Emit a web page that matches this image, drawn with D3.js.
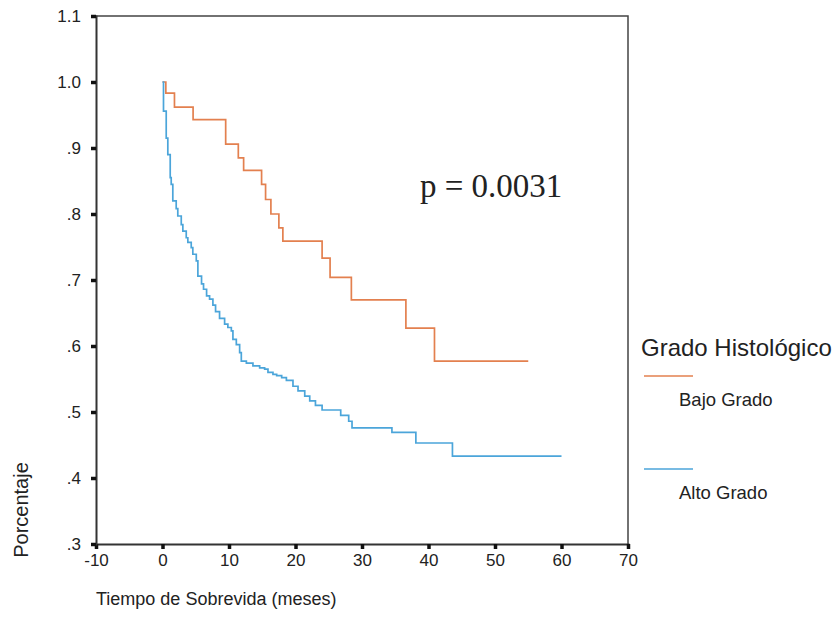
<!DOCTYPE html>
<html>
<head>
<meta charset="utf-8">
<script src="https://d3js.org/d3.v7.min.js"></script>
<style>
  body { margin: 0; background: #fff; }
  svg text { font-family: "Liberation Sans", Arial, sans-serif; fill: #222; }
</style>
<title>Sobrevida por grado histológico</title>
</head>
<body>
<div id="chart"><svg width="834" height="633"></svg></div>
<script>
// tick values
var timeTicks = [-10, 0, 10, 20, 30, 40, 50, 60, 70];
var pctTicks = [0.3, 0.4, 0.5, 0.6, 0.7, 0.8, 0.9, 1.0, 1.1];

// Bajo Grado (step changes: month, survival after the step)
var bajoTime = [0, 0.5, 1.8, 4.6, 9.5, 11.4, 12.2, 14.9, 15.5, 16.3, 17.5, 18.1, 24.0, 25.2, 28.4, 36.6, 40.9, 55];
var bajoSurv = [1.0, 0.983, 0.962, 0.943, 0.906, 0.885, 0.866, 0.845, 0.822, 0.800, 0.779, 0.759, 0.733, 0.704, 0.670, 0.627, 0.577, 0.577];

// Alto Grado
var altoTime = [0, 0.15, 0.56, 0.8, 1.16, 1.31, 1.55, 2.06, 2.3, 2.82, 3.06, 3.57, 3.81, 4.32, 4.56, 5.08, 5.32, 5.87, 6.17, 6.63,
  7.08, 7.58, 7.98, 8.58, 9.34, 9.83, 10.35, 10.59, 11.1, 11.6, 11.85, 12.61, 13.6, 14.61, 15.36, 15.86, 16.61, 17.17, 17.92,
  18.63, 19.62, 20.38, 21.39, 22.14, 23, 24, 26.8, 28, 28.5, 34.5, 38.1, 43.6, 60];
var altoSurv = [1.0, 0.956, 0.915, 0.890, 0.855, 0.845, 0.820, 0.808, 0.797, 0.784, 0.774, 0.764, 0.757, 0.749, 0.739, 0.729, 0.706,
  0.694, 0.686, 0.676, 0.671, 0.662, 0.652, 0.642, 0.633, 0.628, 0.623, 0.610, 0.602, 0.590, 0.577, 0.574, 0.570, 0.567, 0.565,
  0.560, 0.557, 0.555, 0.552, 0.548, 0.539, 0.532, 0.524, 0.517, 0.510, 0.503, 0.495, 0.486, 0.476, 0.469, 0.453, 0.433, 0.433];

var seriesNames = ['Bajo Grado', 'Alto Grado'];
var seriesColors = ['#e3804f', '#4ba5da'];

var svg = d3.select('#chart svg');
var margin = { top: 16, right: 206, bottom: 89, left: 96 };
var width = 834, height = 633;

var x = d3.scaleLinear().domain([-10, 70]).range([margin.left, width - margin.right]);
var y = d3.scaleLinear().domain([0.3, 1.1]).range([height - margin.bottom, margin.top]);

var fmtY = function(v) {
  var s = v.toFixed(1);
  return v < 1 ? s.replace(/^0/, '') : s;
};
var fmtX = function(v) { return String(v); };  // plain hyphen for -10

// frame (top and right)
svg.append('path')
  .attr('d', 'M' + x(-10) + ',' + y(1.1) + 'H' + x(70) + 'V' + y(0.3))
  .attr('fill', 'none')
  .attr('stroke', '#444')
  .attr('stroke-width', 1.5);

var xAxis = svg.append('g')
  .attr('transform', 'translate(0,' + y(0.3) + ')')
  .call(d3.axisBottom(x).tickValues(timeTicks).tickFormat(fmtX).tickSize(5).tickPadding(5));

var yAxis = svg.append('g')
  .attr('transform', 'translate(' + x(-10) + ',0)')
  .call(d3.axisLeft(y).tickValues(pctTicks).tickFormat(fmtY).tickSize(5).tickPadding(10));

[xAxis, yAxis].forEach(function(g) {
  g.select('.domain').attr('stroke', '#333').attr('stroke-width', 2);
  g.selectAll('.tick line').attr('stroke', '#111').attr('stroke-width', 3.5);
  g.selectAll('.tick text').style('font-size', '17px').attr('fill', '#222');
});

var line = d3.line()
  .x(function(d) { return x(d[0]); })
  .y(function(d) { return y(d[1]); })
  .curve(d3.curveStepAfter);

var bajo = d3.zip(bajoTime, bajoSurv);
var alto = d3.zip(altoTime, altoSurv);

svg.selectAll('path.km')
  .data([bajo, alto])
  .enter()
  .append('path')
  .attr('class', 'km')
  .attr('d', line)
  .attr('fill', 'none')
  .attr('stroke', function(d, i) { return seriesColors[i]; })
  .attr('stroke-width', 1.7);

// p value
svg.append('text')
  .attr('x', 420)
  .attr('y', 197)
  .style('font-family', '"Liberation Serif", "Times New Roman", serif')
  .style('font-size', '33px')
  .text('p = 0.0031');

// axis titles
svg.append('text')
  .attr('x', 96)
  .attr('y', 605)
  .style('font-size', '18px')
  .text('Tiempo de Sobrevida (meses)');

svg.append('text')
  .attr('transform', 'translate(28,510) rotate(-90)')
  .attr('text-anchor', 'middle')
  .style('font-size', '20px')
  .text('Porcentaje');

// legend
var legend = svg.append('g');
legend.append('text')
  .attr('x', 641)
  .attr('y', 356)
  .style('font-size', '24px')
  .text('Grado Histológico');

var items = legend.selectAll('g.item')
  .data(seriesNames)
  .enter()
  .append('g')
  .attr('class', 'item')
  .attr('transform', function(d, i) { return 'translate(0,' + (376 + i * 93) + ')'; });

items.append('line')
  .attr('x1', 644).attr('x2', 693)
  .attr('stroke', function(d, i) { return seriesColors[i]; })
  .attr('stroke-width', 1.7);

items.append('text')
  .attr('x', 679)
  .attr('y', 30)
  .style('font-size', '18.5px')
  .text(function(d) { return d; });
</script>
</body>
</html>
